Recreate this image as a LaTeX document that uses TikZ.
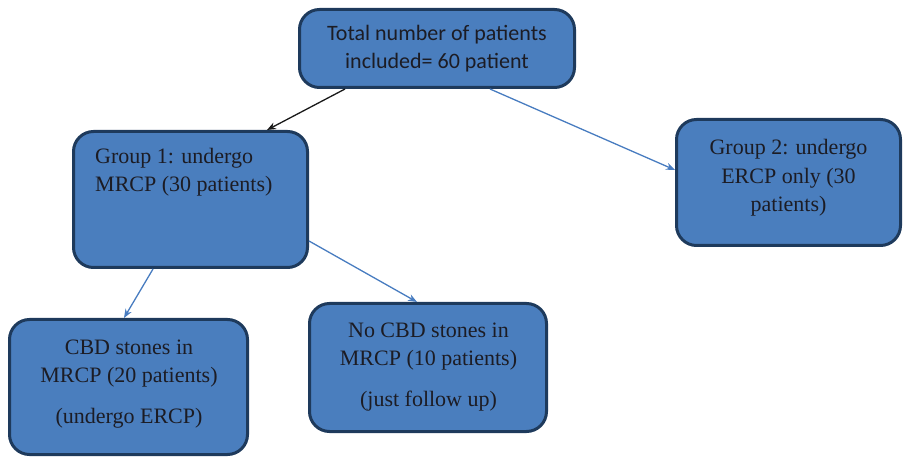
\documentclass[tikz,border=0pt]{standalone}
\usepackage{fontspec}
\setmainfont{Liberation Serif}
\newfontfamily\calfont{Carlito}
\usetikzlibrary{arrows.meta,calc}
\definecolor{boxfill}{RGB}{74,126,190}
\definecolor{boxline}{RGB}{30,58,92}
\definecolor{arrowblue}{RGB}{72,124,192}
\definecolor{txt}{RGB}{28,28,36}
\begin{document}
\begin{tikzpicture}[x=1pt,y=-1pt,
  flowbox/.style={draw=boxline,fill=boxfill,line width=3pt,rounded corners=20pt,
    inner sep=0pt,text=txt,align=center},
  boxtext/.style={inner sep=0pt,text=txt,font=\fontsize{22}{28.5}\selectfont},
  calib/.style={font=\calfont\fontsize{22}{28}\selectfont},
  bluearrow/.style={draw=arrowblue,line width=1.3pt,-{Stealth[length=9pt,width=7pt]}},
  blackarrow/.style={draw=black!90,line width=1.3pt,-{Stealth[length=9pt,width=7pt]}}]
\useasboundingbox (0,0) rectangle (905,462);
\node[flowbox,calib,minimum width=275pt,minimum height=78pt] (top) at (437,48.5)
  {Total number of patients\\included= 60 patient};
\node[flowbox,minimum width=234pt,minimum height=136pt] (g1) at (190.5,199.5) {};
\node[boxtext,anchor=base west,align=left] (g1t) at (95,192)
  {Group 1: undergo\\MRCP (30 patients)};
\node[flowbox,minimum width=224pt,minimum height=126pt] (g2) at (788.5,182.5) {};
\node[boxtext,anchor=base,align=center] (g2t) at (788.5,212)
  {Group 2: undergo\\ERCP only (30\\patients)};
\node[flowbox,minimum width=238pt,minimum height=135pt] (cbd) at (128.5,387) {};
\node[boxtext,anchor=base,align=center] (cbdt) at (129,423)
  {CBD stones in\\MRCP (20 patients)\\[12pt](undergo ERCP)};
\node[flowbox,minimum width=237pt,minimum height=128pt] (nocbd) at (428,367.5) {};
\node[boxtext,anchor=base,align=center] (nocbdt) at (428.5,406)
  {No CBD stones in\\MRCP (10 patients)\\[12pt](just follow up)};
\draw[blackarrow] ($(top.south west)+(47,0)$) -- ($(g1.north west)+(195,0)$);
\draw[bluearrow] ($(top.south west)+(192,0)$) -- ($(g2.north west)+(0,52)$);
\draw[bluearrow] ($(g1.south west)+(81,0)$) -- ($(cbd.north west)+(116,0)$);
\draw[bluearrow] ($(g1.north east)+(0,111)$) -- ($(nocbd.north west)+(109,0)$);
\end{tikzpicture}
\end{document}
